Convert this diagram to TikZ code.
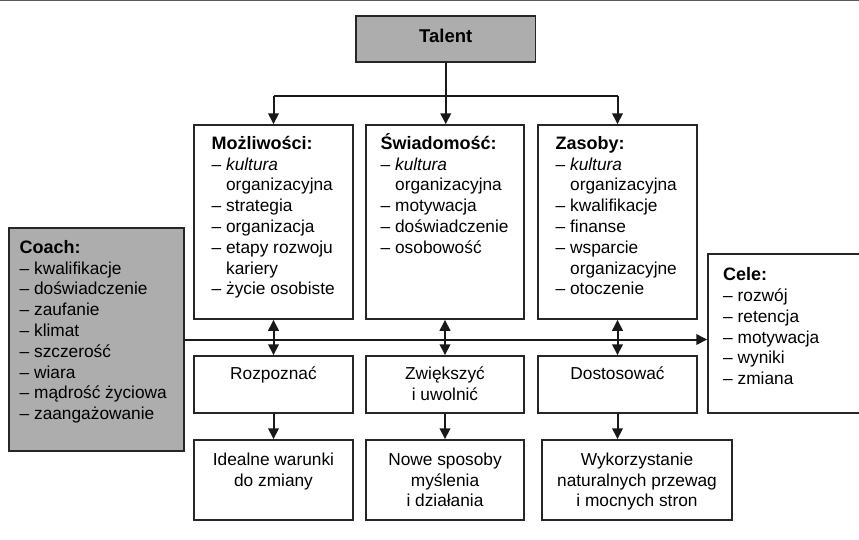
\documentclass[tikz,border=0pt]{standalone}
\usepackage{fontspec}
\setmainfont{Liberation Sans}
\usetikzlibrary{arrows.meta}

\newcommand{\liststrut}{\rule{0pt}{17pt}}
\newcommand{\hdr}[1]{{\fontsize{18}{20.8}\selectfont\bfseries #1}}
\newcommand{\ind}{\hphantom{– }}

\begin{document}
\begin{tikzpicture}[
x=1pt, y=-1pt,
font=\fontsize{17.3}{20.8}\selectfont,
tip/.tip={Triangle[length=11pt,width=10.5pt]},
boxnode/.style={rectangle, draw=black!85, line width=1.5pt, inner sep=0pt},
graynode/.style={boxnode, fill=black!32},
listtext/.style={anchor=north west, align=left, inner sep=0pt},
midtext/.style={anchor=north, align=center, inner sep=0pt},
link/.style={draw=black!90, line width=2pt},
]
\useasboundingbox (0,0) rectangle (859,539);
\draw[draw=black!65, line width=1.2pt] (0,0.7) -- (859,0.7);
%Nodes
\node[graynode, minimum width=179.5pt, minimum height=46pt, text height=13pt, text depth=7pt] at (445.75,39) (talent) {\hdr{\fontsize{18.5}{20.8}\selectfont Talent}};
\node[boxnode, minimum width=159pt, minimum height=194pt] at (273.5,222) (mozl) {};
\node[boxnode, minimum width=158pt, minimum height=194pt] at (445,222) (swiad) {};
\node[boxnode, minimum width=159pt, minimum height=194pt] at (617.5,222) (zas) {};
\node[graynode, minimum width=175pt, minimum height=223pt] at (96.5,339.5) (coach) {};
\node[boxnode, minimum width=158pt, minimum height=159pt] at (787,333.5) (cele) {};
\node[boxnode, minimum width=159pt, minimum height=57pt] at (273.5,384.5) (rozp) {};
\node[boxnode, minimum width=158pt, minimum height=57pt] at (445,384.5) (zwie) {};
\node[boxnode, minimum width=159pt, minimum height=57pt] at (617.5,384.5) (dost) {};
\node[boxnode, minimum width=159pt, minimum height=80pt] at (273.5,480) (ideal) {};
\node[boxnode, minimum width=158pt, minimum height=80pt] at (445,480) (nowe) {};
\node[boxnode, minimum width=190pt, minimum height=80pt] at (637,480) (wyk) {};
%Texts
\node[listtext] at (211.5,132.1) (mozlText) {\liststrut\hdr{Możliwości:}\\– \textit{kultura}\\\ind organizacyjna\\– strategia\\– organizacja\\– etapy rozwoju\\\ind kariery\\– życie osobiste};
\node[listtext] at (380.5,132.1) (swiadText) {\liststrut\hdr{Świadomość:}\\– \textit{kultura}\\\ind organizacyjna\\– motywacja\\– doświadczenie\\– osobowość};
\node[listtext] at (555.5,132.1) (zasText) {\liststrut\hdr{Zasoby:}\\– \textit{kultura}\\\ind organizacyjna\\– kwalifikacje\\– finanse\\– wsparcie\\\ind organizacyjne\\– otoczenie};
\node[listtext] at (19.5,236.1) (coachText) {\liststrut\hdr{Coach:}\\– kwalifikacje\\– doświadczenie\\– zaufanie\\– klimat\\– szczerość\\– wiara\\– mądrość życiowa\\– zaangażowanie};
\node[listtext] at (723,263.5) (celeText) {\liststrut\hdr{Cele:}\\– rozwój\\– retencja\\– motywacja\\– wyniki\\– zmiana};
\node[midtext] at (273.5,362) (rozpText) {\liststrut Rozpoznać};
\node[midtext] at (445,362) (zwieText) {\liststrut Zwiększyć\\i uwolnić};
\node[midtext] at (617.5,362) (dostText) {\liststrut Dostosować};
\node[midtext] at (273.5,448) (idealText) {\liststrut Idealne warunki\\do zmiany};
\node[midtext] at (445,448) (noweText) {\liststrut Nowe sposoby\\myślenia\\i działania};
\node[midtext] at (637,448) (wykText) {\liststrut Wykorzystanie\\naturalnych przewag\\i mocnych stron};
%Lines
\coordinate (split) at (445.75,96);
\draw[link,-tip] (talent.south) -- (talent.south |- swiad.north);
\draw[link] (split -| mozl.north) -- (split -| zas.north);
\draw[link,-tip] (split -| mozl.north) -- (mozl.north);
\draw[link,-tip] (split -| zas.north) -- (zas.north);
\draw[link,-tip] (coach.east) -- (coach.east -| cele.west);
\draw[link,tip-tip] (mozl.south) -- (rozp.north);
\draw[link,tip-tip] (swiad.south) -- (zwie.north);
\draw[link,tip-tip] (zas.south) -- (dost.north);
\draw[link,-tip] (rozp.south) -- (ideal.north);
\draw[link,-tip] (zwie.south) -- (nowe.north);
\draw[link,-tip] (dost.south) -- (dost.south |- wyk.north);
\end{tikzpicture}
\end{document}
